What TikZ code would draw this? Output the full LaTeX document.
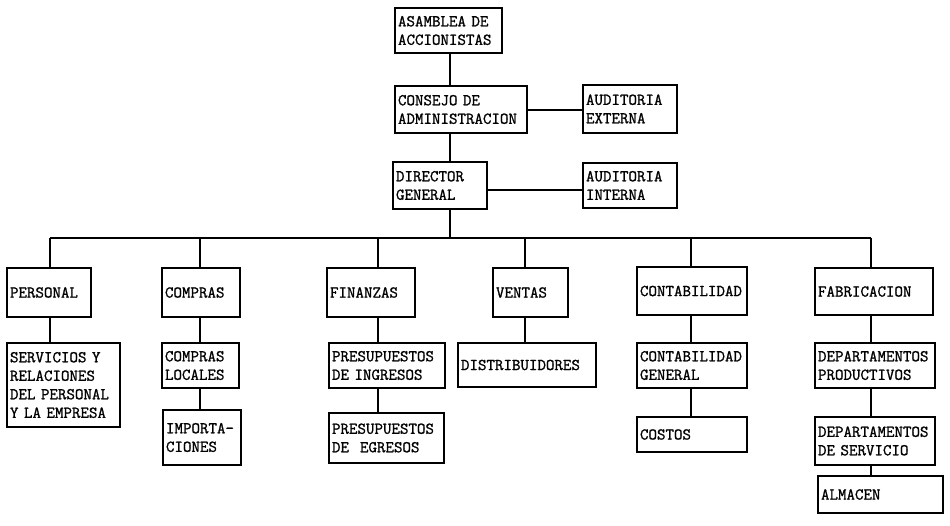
\documentclass[tikz,border=0pt]{standalone}
\usepackage{fontspec}
\newfontfamily\twfont{Latin Modern Mono}[FakeBold=1.2]
\tikzset{
  box/.style={draw, line width=1.5pt, rectangle, inner xsep=3pt, inner ysep=0pt,
    font=\twfont\fontsize{16.5}{18.5}\selectfont, align=left},
  conn/.style={line width=1.5pt}
}
\newcommand\bx[6]{%
  \pgfmathsetmacro\bw{#4-#2}%
  \pgfmathsetmacro\bh{#5-#3}%
  \pgfmathsetmacro\btw{#4-#2-6}%
  \node[box, minimum width=\bw pt, minimum height=\bh pt, text width=\btw pt] (#1) at ({(#2+#4)/2},{(#3+#5)/2}) {#6};%
}
\begin{document}
\begin{tikzpicture}[x=1pt,y=-1pt]
\useasboundingbox (0,0) rectangle (950,525);
\bx{asam}{395}{8}{502}{53}{ASAMBLEA DE\\ACCIONISTAS}
\bx{cons}{395}{86}{527}{133}{CONSEJO DE\\ADMINISTRACION}
\bx{ext}{583}{85}{677}{133}{AUDITORIA\\EXTERNA}
\bx{dir}{393}{162}{487}{209}{DIRECTOR\\GENERAL}
\bx{int}{583}{163}{677}{208}{AUDITORIA\\INTERNA}
\bx{pers}{7}{268}{91}{317}{PERSONAL}
\bx{comp}{162}{268}{240}{317}{COMPRAS}
\bx{fin}{327}{268}{415}{317}{FINANZAS}
\bx{ven}{493}{268}{568}{317}{VENTAS}
\bx{cont}{637}{267}{747}{315}{CONTABILIDAD}
\bx{fab}{815}{268}{933}{315}{FABRICACION}
\bx{serv}{7}{343}{120}{427}{SERVICIOS Y\\RELACIONES\\DEL PERSONAL\\Y LA EMPRESA}
\bx{cloc}{162}{343}{239}{388}{COMPRAS\\LOCALES}
\bx{imp}{163}{410}{241}{465}{\mbox{IMPORTA-}\\CIONES}
\bx{ping}{329}{343}{445}{388}{PRESUPUESTOS\\DE INGRESOS}
\bx{pegr}{329}{413}{444}{463}{PRESUPUESTOS\\DE\ \ EGRESOS}
\bx{dist}{458}{343}{596}{387}{DISTRIBUIDORES}
\bx{cgen}{637}{343}{747}{388}{CONTABILIDAD\\GENERAL}
\bx{cost}{637}{417}{747}{452}{COSTOS}
\bx{dprod}{815}{343}{935}{388}{DEPARTAMENTOS\\PRODUCTIVOS}
\bx{dserv}{815}{417}{935}{465}{DEPARTAMENTOS\\DE SERVICIO}
\bx{alm}{818}{476}{943}{513}{ALMACEN}
% reference columns
\coordinate (xc) at (450,0);
\coordinate (x1) at (50,0);
\coordinate (x2) at (200,0);
\coordinate (x3) at (378,0);
\coordinate (x4) at (525,0);
\coordinate (x5) at (691,0);
\coordinate (x6) at (871,0);
\coordinate (y1) at (0,110);
\coordinate (y2) at (0,190);
\coordinate (busL) at (50,238);
\coordinate (busR) at (871,238);
\coordinate (busC) at (450,238);
% top chain
\draw[conn] (asam.south -| xc) -- (cons.north -| xc);
\draw[conn] (cons.south -| xc) -- (dir.north -| xc);
\draw[conn] (dir.south -| xc) -- (busC);
\draw[conn] (cons.east |- y1) -- (ext.west |- y1);
\draw[conn] (dir.east |- y2) -- (int.west |- y2);
% bus
\draw[conn] (busL) -- (busR);
\draw[conn] (busL) -- (pers.north -| x1);
\draw[conn] (busL -| x2) -- (comp.north -| x2);
\draw[conn] (busL -| x3) -- (fin.north -| x3);
\draw[conn] (busL -| x4) -- (ven.north -| x4);
\draw[conn] (busL -| x5) -- (cont.north -| x5);
\draw[conn] (busR) -- (fab.north -| x6);
% sub chains
\draw[conn] (pers.south -| x1) -- (serv.north -| x1);
\draw[conn] (comp.south -| x2) -- (cloc.north -| x2);
\draw[conn] (cloc.south -| x2) -- (imp.north -| x2);
\draw[conn] (fin.south -| x3) -- (ping.north -| x3);
\draw[conn] (ping.south -| x3) -- (pegr.north -| x3);
\draw[conn] (ven.south -| x4) -- (dist.north -| x4);
\draw[conn] (cont.south -| x5) -- (cgen.north -| x5);
\draw[conn] (cgen.south -| x5) -- (cost.north -| x5);
\draw[conn] (fab.south -| x6) -- (dprod.north -| x6);
\draw[conn] (dprod.south -| x6) -- (dserv.north -| x6);
\draw[conn] (dserv.south -| x6) -- (alm.north -| x6);
\end{tikzpicture}
\end{document}
